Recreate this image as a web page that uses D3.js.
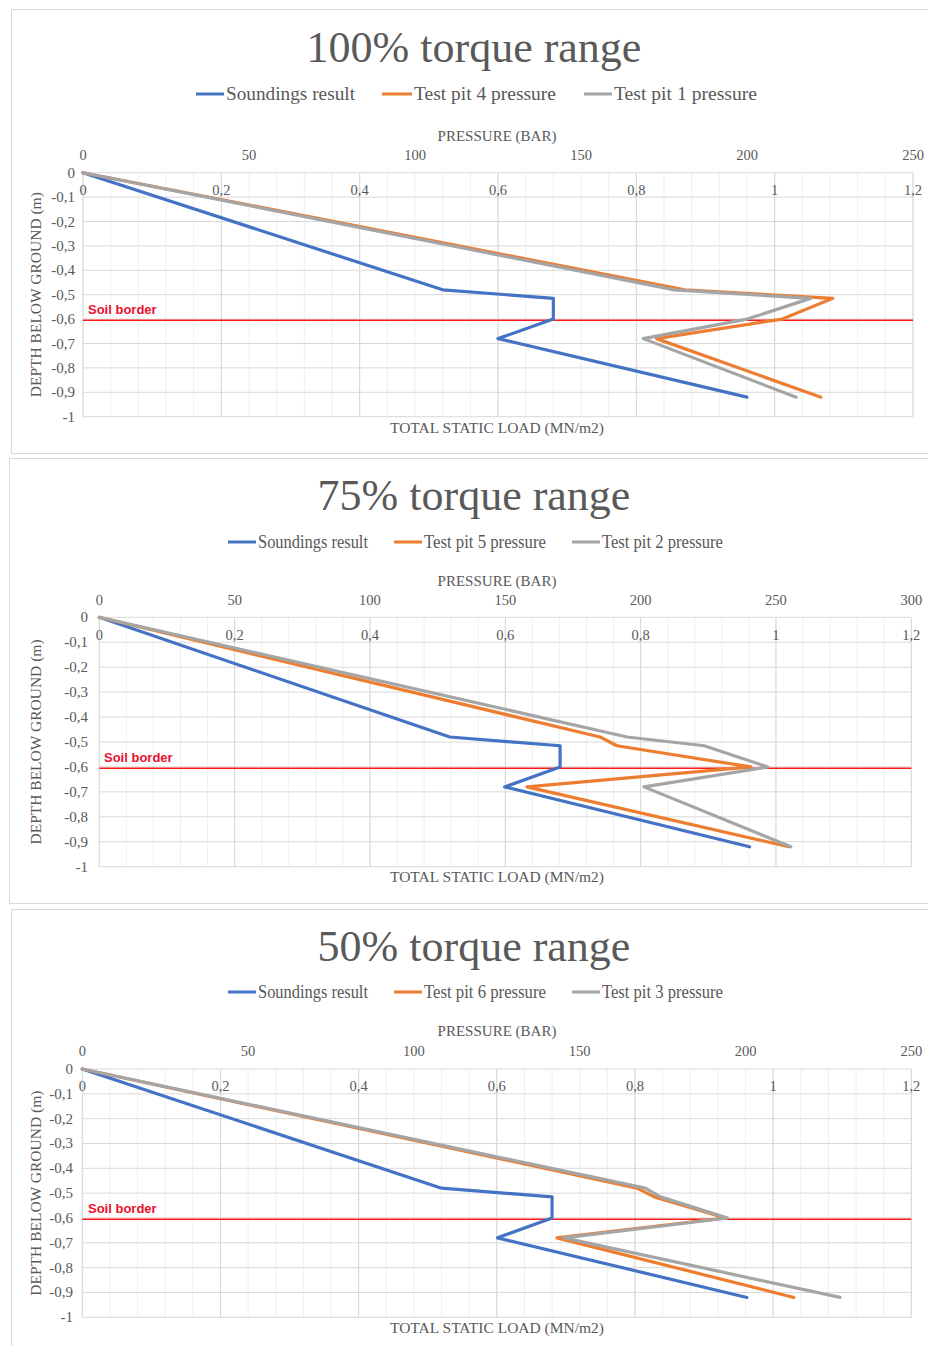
<!DOCTYPE html>
<html>
<head>
<meta charset="utf-8">
<script src="https://cdn.jsdelivr.net/npm/d3@7"></script>
<style>
  html, body { margin: 0; padding: 0; background: #ffffff; }
  svg { display: block; }
</style>
</head>
<body>
<svg id="chart" width="928" height="1346"></svg>
<script>
// ---------------- DATA ----------------
const depths = [0, -0.48, -0.515, -0.6, -0.68, -0.92];

const titles = ["100% torque range", "75% torque range", "50% torque range"];
const seriesNames = [
  ["Soundings result", "Test pit 4 pressure", "Test pit 1 pressure"],
  ["Soundings result", "Test pit 5 pressure", "Test pit 2 pressure"],
  ["Soundings result", "Test pit 6 pressure", "Test pit 3 pressure"]
];

// total static load (MN/m2) at each depth
const p1Soundings = [0, 0.52, 0.68, 0.68, 0.60, 0.96];
const p1Pit4      = [0, 0.87, 1.084, 1.011, 0.829, 1.067];
const p1Pit1      = [0, 0.855, 1.052, 0.96, 0.81, 1.031];

const p2Soundings = [0, 0.518, 0.681, 0.681, 0.599, 0.961];
const p2Pit5      = [0, 0.74, 0.765, 0.963, 0.632, 1.019];
const p2Pit2      = [0, 0.78, 0.894, 0.988, 0.805, 1.022];

const p3Soundings = [0, 0.52, 0.68, 0.68, 0.601, 0.962];
const p3Pit6      = [0, 0.803, 0.828, 0.931, 0.687, 1.03];
const p3Pit3      = [0, 0.815, 0.837, 0.934, 0.697, 1.097];

const panelSeries = [
  [p1Soundings, p1Pit4, p1Pit1],
  [p2Soundings, p2Pit5, p2Pit2],
  [p3Soundings, p3Pit6, p3Pit3]
];

const soilBorder = -0.605;
const loadTicks = [0, 0.2, 0.4, 0.6, 0.8, 1, 1.2];
const depthTicks = [0, -0.1, -0.2, -0.3, -0.4, -0.5, -0.6, -0.7, -0.8, -0.9, -1];
const pressureMax = [250, 300, 250];
const pressureTicks = [
  [0, 50, 100, 150, 200, 250],
  [0, 50, 100, 150, 200, 250, 300],
  [0, 50, 100, 150, 200, 250]
];

// ---------------- LAYOUT ----------------
const colors = ["#4472C4", "#ED7D31", "#A5A5A5"];
const panels = [
  { box: [11, 9, 940, 444], plot: [83, 172.7, 913, 416.7], titleY: 62, legY: 94, presY: 141, presTickY: 160, innerTickY: 195, loadTitleY: 433, yTickX: 75, yTitleX: 41,
    legend: [[196, 224, 129], [382, 412, 142], [584, 612, 143]], soilX: 88 },
  { box: [9, 458, 940, 445], plot: [99.3, 617.3, 911.3, 866.7], titleY: 510, legY: 542, presY: 586, presTickY: 605, innerTickY: 640, loadTitleY: 882, yTickX: 88, yTitleX: 41,
    legend: [[228, 256, 110], [394, 422, 122], [572, 600, 121]], soilX: 104 },
  { box: [11, 909, 940, 460], plot: [82.3, 1069, 911.3, 1317.3], titleY: 961, legY: 992, presY: 1036, presTickY: 1056, innerTickY: 1091, loadTitleY: 1333, yTickX: 73, yTitleX: 41,
    legend: [[228, 256, 110], [394, 422, 122], [572, 600, 121]], soilX: 88 }
];

const svg = d3.select("#chart");
const serif = "'Liberation Serif', 'Times New Roman', serif";
const textCol = "#595959";
const fmt = v => String(+v.toFixed(2)).replace(".", ",");

panels.forEach((P, i) => {
  const g = svg.append("g");
  const [bx, by, bw, bh] = P.box;
  g.append("rect").attr("x", bx + 0.5).attr("y", by + 0.5).attr("width", bw).attr("height", bh)
    .attr("fill", "#fff").attr("stroke", "#d9d9d9").attr("stroke-width", 1);

  const [x0, y0, x1, y1] = P.plot;
  const x = d3.scaleLinear().domain([0, 1.2]).range([x0, x1]);
  const xp = d3.scaleLinear().domain([0, pressureMax[i]]).range([x0, x1]);
  const y = d3.scaleLinear().domain([0, -1]).range([y0, y1]);

  // minor vertical grid
  const minor = d3.range(0, 1.2001, 0.04);
  g.append("g").selectAll("line").data(minor).join("line")
    .attr("x1", d => x(d)).attr("x2", d => x(d)).attr("y1", y0).attr("y2", y1)
    .attr("stroke", "#efefef").attr("stroke-width", 1);
  // major vertical grid
  g.append("g").selectAll("line").data(loadTicks).join("line")
    .attr("x1", d => x(d)).attr("x2", d => x(d)).attr("y1", y0).attr("y2", y1)
    .attr("stroke", "#d6d6d6").attr("stroke-width", 1);
  // horizontal grid
  g.append("g").selectAll("line").data(depthTicks).join("line")
    .attr("x1", x0).attr("x2", x1).attr("y1", d => y(d)).attr("y2", d => y(d))
    .attr("stroke", "#d9d9d9").attr("stroke-width", 1);

  // soil border
  g.append("line").attr("x1", x0).attr("x2", x1).attr("y1", y(soilBorder)).attr("y2", y(soilBorder))
    .attr("stroke", "#ff1a1a").attr("stroke-width", 1.5);
  g.append("text").attr("x", P.soilX).attr("y", y(soilBorder) - 6)
    .attr("font-family", "'Liberation Sans', Arial, sans-serif").attr("font-weight", "bold")
    .attr("font-size", 13).attr("fill", "#e8112d").text("Soil border");

  // series
  const line = d3.line().x(d => x(d[0])).y(d => y(d[1]));
  panelSeries[i].forEach((vals, s) => {
    const pts = vals.map((v, k) => [v, depths[k]]);
    g.append("path").datum(pts).attr("d", line).attr("fill", "none")
      .attr("stroke", colors[s]).attr("stroke-width", 3.2).attr("stroke-linejoin", "round").attr("stroke-linecap", "round");
  });

  // inner load tick labels
  g.append("g").selectAll("text").data(loadTicks).join("text")
    .attr("x", d => x(d)).attr("y", P.innerTickY).attr("text-anchor", "middle")
    .attr("font-family", serif).attr("font-size", 14.5).attr("fill", textCol).text(d => fmt(d));
  // top pressure tick labels
  g.append("g").selectAll("text").data(pressureTicks[i]).join("text")
    .attr("x", d => xp(d)).attr("y", P.presTickY).attr("text-anchor", "middle")
    .attr("font-family", serif).attr("font-size", 14.5).attr("fill", textCol).text(d => d);
  // depth tick labels
  g.append("g").selectAll("text").data(depthTicks).join("text")
    .attr("x", P.yTickX).attr("y", d => y(d) + 5).attr("text-anchor", "end")
    .attr("font-family", serif).attr("font-size", 15).attr("fill", textCol).text(d => fmt(d));

  // axis titles
  g.append("text").attr("x", 497).attr("y", P.presY).attr("text-anchor", "middle")
    .attr("font-family", serif).attr("font-size", 15).attr("fill", textCol).text("PRESSURE (BAR)");
  g.append("text").attr("x", 497).attr("y", P.loadTitleY).attr("text-anchor", "middle")
    .attr("font-family", serif).attr("font-size", 15.5).attr("fill", textCol).text("TOTAL STATIC LOAD (MN/m2)");
  g.append("text").attr("transform", `translate(${P.yTitleX},${(y0 + y1) / 2}) rotate(-90)`)
    .attr("text-anchor", "middle").attr("font-family", serif).attr("font-size", 15.5).attr("fill", textCol)
    .text("DEPTH BELOW GROUND (m)");

  // title
  g.append("text").attr("x", 474).attr("y", P.titleY).attr("text-anchor", "middle")
    .attr("font-family", serif).attr("font-size", 44).attr("fill", textCol).text(titles[i]);

  // legend
  P.legend.forEach((L, s) => {
    g.append("line").attr("x1", L[0]).attr("x2", L[1]).attr("y1", P.legY).attr("y2", P.legY)
      .attr("stroke", colors[s]).attr("stroke-width", 3);
    g.append("text").attr("x", L[1] + 2).attr("y", P.legY + 6)
      .attr("font-family", serif).attr("font-size", 19).attr("fill", textCol)
      .attr("textLength", L[2]).attr("lengthAdjust", "spacingAndGlyphs")
      .text(seriesNames[i][s]);
  });
});
</script>
</body>
</html>
